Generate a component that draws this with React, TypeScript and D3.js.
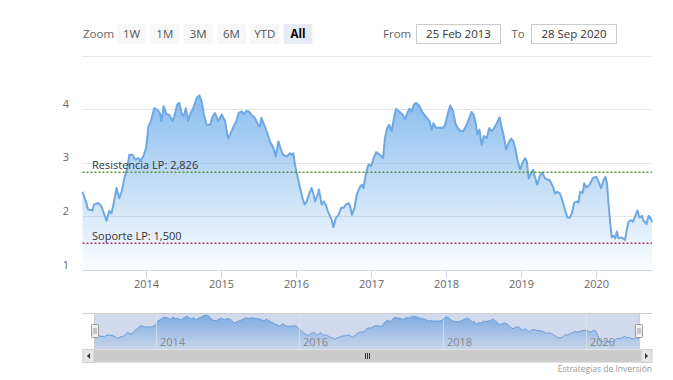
import React from "react";
import * as d3 from "d3";

const dates: string[] = [
  "2013-02-25","2013-03-16","2013-03-24","2013-04-15","2013-04-21","2013-05-12","2013-05-28","2013-06-09","2013-06-22","2013-07-05","2013-07-16","2013-07-29","2013-08-10","2013-08-23","2013-09-04","2013-09-17","2013-10-01","2013-10-11","2013-10-27","2013-11-08","2013-11-24","2013-12-02","2013-12-18",
  "2014-01-01","2014-01-12","2014-01-24","2014-02-09","2014-02-25","2014-03-08","2014-03-16","2014-03-27","2014-04-10","2014-04-23","2014-05-09","2014-05-20","2014-06-01","2014-06-11","2014-06-22","2014-07-03","2014-07-13","2014-07-24","2014-08-02","2014-08-18","2014-09-04","2014-09-17","2014-09-28","2014-10-09","2014-10-22","2014-11-08","2014-11-21","2014-12-02","2014-12-18",
  "2015-01-04","2015-01-20","2015-02-03","2015-02-14","2015-02-27","2015-03-16","2015-03-27","2015-04-10","2015-04-23","2015-05-04","2015-05-15","2015-05-28","2015-06-14","2015-06-30","2015-07-08","2015-07-16","2015-07-29","2015-08-10","2015-08-26","2015-09-12","2015-09-24","2015-10-06","2015-10-19","2015-10-30","2015-11-16","2015-12-02","2015-12-10","2015-12-18","2015-12-26",
  "2016-01-09","2016-01-20","2016-02-01","2016-02-11","2016-02-22","2016-03-03","2016-03-16","2016-03-24","2016-04-02","2016-04-15","2016-04-21","2016-05-04","2016-05-14","2016-05-24","2016-06-03","2016-06-14","2016-06-22","2016-06-30","2016-07-12","2016-07-24","2016-08-07","2016-08-18","2016-08-30","2016-09-12","2016-09-20","2016-09-28","2016-10-11","2016-10-22","2016-11-08","2016-11-16","2016-11-24","2016-12-06","2016-12-18",
  "2017-01-01","2017-01-12","2017-01-25","2017-02-11","2017-02-27","2017-03-08","2017-03-19","2017-03-29","2017-04-10","2017-04-21","2017-05-01","2017-05-17","2017-06-03","2017-06-14","2017-06-25","2017-07-05","2017-07-16","2017-07-27","2017-08-07","2017-08-23","2017-09-04","2017-09-15","2017-09-28","2017-10-11","2017-10-22","2017-10-30","2017-11-13","2017-11-29","2017-12-15","2017-12-26",
  "2018-01-07","2018-01-20","2018-02-03","2018-02-14","2018-02-25","2018-03-12","2018-03-24","2018-04-10","2018-04-23","2018-05-04","2018-05-15","2018-05-25","2018-06-01","2018-06-11","2018-06-22","2018-07-03","2018-07-16","2018-07-29","2018-08-10","2018-08-21","2018-09-04","2018-09-17","2018-09-28","2018-10-06","2018-10-19","2018-10-30","2018-11-12","2018-11-24","2018-12-05","2018-12-13","2018-12-26",
  "2019-01-09","2019-01-20","2019-01-28","2019-02-06","2019-02-18","2019-02-27","2019-03-08","2019-03-19","2019-04-02","2019-04-13","2019-04-26","2019-05-07","2019-05-20","2019-06-03","2019-06-14","2019-06-25","2019-07-08","2019-07-21","2019-08-02","2019-08-13","2019-08-26","2019-09-04","2019-09-15","2019-09-25","2019-10-06","2019-10-14","2019-10-27","2019-11-03","2019-11-13","2019-11-29","2019-12-15",
  "2020-01-01","2020-01-12","2020-01-24","2020-02-06","2020-02-14","2020-02-22","2020-02-29","2020-03-08","2020-03-16","2020-03-24","2020-04-02","2020-04-10","2020-04-18","2020-04-30","2020-05-09","2020-05-20","2020-05-28","2020-06-06","2020-06-18","2020-06-27","2020-07-08","2020-07-19","2020-07-29","2020-08-10","2020-08-18","2020-09-01","2020-09-12","2020-09-24","2020-09-28",
];

const values: number[] = [
  2.46, 2.25, 2.13, 2.11, 2.22, 2.25, 2.19, 2.06, 1.92, 2.10, 2.06, 2.28, 2.53, 2.34, 2.47, 2.72, 2.90, 3.15, 3.15, 3.06, 3.09, 3.03, 3.12,
  3.28, 3.68, 3.78, 4.02, 3.99, 3.93, 3.78, 4.06, 3.91, 3.90, 3.78, 3.90, 4.09, 4.12, 3.93, 3.87, 4.02, 3.78, 3.90, 4.02, 4.21, 4.26, 4.15, 3.90, 3.71, 3.71, 3.87, 3.93, 3.78,
  3.90, 3.78, 3.46, 3.53, 3.65, 3.78, 3.93, 3.96, 3.91, 3.97, 3.96, 3.90, 3.84, 3.71, 3.68, 3.84, 3.71, 3.59, 3.40, 3.28, 3.12, 3.40, 3.25, 3.15, 3.12, 3.18, 3.15, 3.18, 2.97,
  2.72, 2.53, 2.34, 2.22, 2.28, 2.41, 2.53, 2.44, 2.28, 2.41, 2.50, 2.22, 2.28, 2.22, 2.10, 2.00, 1.94, 1.80, 1.97, 2.02, 2.16, 2.16, 2.22, 2.25, 2.19, 2.03, 2.16, 2.41, 2.56, 2.59, 2.53, 2.81, 2.97,
  2.94, 3.09, 3.20, 3.15, 3.09, 3.46, 3.65, 3.71, 3.59, 3.84, 4.01, 3.96, 3.90, 3.81, 3.93, 4.01, 3.96, 4.09, 4.12, 4.06, 3.96, 3.90, 3.84, 3.78, 3.62, 3.74, 3.65, 3.66, 3.65, 3.71,
  3.90, 4.07, 3.96, 3.74, 3.65, 3.59, 3.59, 3.71, 3.84, 3.95, 3.89, 3.71, 3.53, 3.62, 3.34, 3.50, 3.46, 3.65, 3.59, 3.65, 3.74, 3.85, 3.65, 3.53, 3.25, 3.37, 3.45, 3.40, 3.22, 3.05, 2.88,
  3.02, 3.09, 3.02, 2.71, 2.81, 2.87, 2.74, 2.59, 2.77, 2.82, 2.71, 2.69, 2.67, 2.56, 2.43, 2.46, 2.43, 2.28, 2.12, 1.98, 1.98, 2.06, 2.25, 2.28, 2.26, 2.46, 2.44, 2.62, 2.54, 2.59, 2.71,
  2.74, 2.65, 2.53, 2.68, 2.74, 2.62, 2.25, 1.90, 1.61, 1.64, 1.59, 1.72, 1.59, 1.61, 1.59, 1.56, 1.75, 1.90, 1.93, 1.90, 2.00, 2.11, 1.98, 2.01, 1.92, 1.86, 2.01, 1.95, 1.89,
];

const yTickValues: number[] = [1, 2, 3, 4];
const yGridValues: number[] = [2, 3, 4, 5];
const xTickYears: number[] = [2014, 2015, 2016, 2017, 2018, 2019, 2020];
const navTickYears: number[] = [2014, 2016, 2018, 2020];
const rangeButtons: string[] = ["1W", "1M", "3M", "6M", "YTD", "All"];
const selectedButton = "All";
const fromText = "25 Feb 2013";
const toText = "28 Sep 2020";
const plotLinesData = [
  { value: 2.826, label: "Resistencia LP: 2,826", color: "#5b8f38" },
  { value: 1.5, label: "Soporte LP: 1,500", color: "#a83a5e" },
];
const creditText = "Estrategias de Inversión";

const FONT = "'Open Sans', 'Noto Sans', sans-serif";

export default function App() {
  const parse = d3.timeParse("%Y-%m-%d");
  const data = dates.map((d, i) => ({ date: parse(d) as Date, v: values[i] }));
  const domain = [data[0].date, data[data.length - 1].date];

  const left = 82.5, right = 652, bottom = 270;
  const x = d3.scaleTime().domain(domain).range([left, right]);
  const y = d3.scaleLinear().domain([1, 5]).range([bottom, 55.7]);

  const navTop = 313, navBottom = 349;
  const xN = d3.scaleTime().domain(domain).range([95, 639]);
  const yN = d3.scaleLinear().domain([0.86, 4.46]).range([navBottom, navTop]);

  const area = d3.area<{ date: Date; v: number }>().x(d => x(d.date)).y0(bottom).y1(d => y(d.v));
  const line = d3.line<{ date: Date; v: number }>().x(d => x(d.date)).y(d => y(d.v));
  const areaN = d3.area<{ date: Date; v: number }>().x(d => xN(d.date)).y0(navBottom).y1(d => yN(d.v));
  const lineN = d3.line<{ date: Date; v: number }>().x(d => xN(d.date)).y(d => yN(d.v));

  const maxV = d3.max(values) as number;
  const btnStep = 33.3, btnW = 29, btnX0 = 117;

  return (
    <svg width={673} height={380} style={{ position: "absolute", left: 0, top: 0, background: "#fff" }} fontFamily={FONT}>
      <defs>
        <linearGradient id="g1" gradientUnits="userSpaceOnUse" x1="0" x2="0" y1={y(maxV)} y2={bottom}>
          <stop offset="0" stopColor="#7cb5ec" stopOpacity={0.9} />
          <stop offset="1" stopColor="#7cb5ec" stopOpacity={0.03} />
        </linearGradient>
        <linearGradient id="g2" gradientUnits="userSpaceOnUse" x1="0" x2="0" y1={yN(maxV)} y2={navBottom}>
          <stop offset="0" stopColor="#7cb5ec" stopOpacity={0.9} />
          <stop offset="1" stopColor="#7cb5ec" stopOpacity={0.1} />
        </linearGradient>
      </defs>

      {/* range selector */}
      <text x={83} y={38} fontSize={11.5} fill="#666">Zoom</text>
      {rangeButtons.map((b, i) => {
        const bx = btnX0 + i * btnStep;
        const sel = b === selectedButton;
        return (
          <g key={b}>
            <rect x={bx} y={24} width={btnW} height={20} rx={2} fill={sel ? "#e6ebf5" : "#f7f7f7"} />
            <text x={bx + btnW / 2} y={38} textAnchor="middle" fontSize={11.5} fill={sel ? "#000" : "#555"} fontWeight={sel ? "bold" : "normal"}>{b}</text>
          </g>
        );
      })}
      <text x={383} y={38} fontSize={11.5} fill="#666">From</text>
      <rect x={416.5} y={24.5} width={84} height={19} fill="#fff" stroke="#cccccc" />
      <text x={458.5} y={38} textAnchor="middle" fontSize={11.5} fill="#333">{fromText}</text>
      <text x={511.5} y={38} fontSize={11.5} fill="#666">To</text>
      <rect x={531.5} y={24.5} width={85} height={19} fill="#fff" stroke="#cccccc" />
      <text x={574} y={38} textAnchor="middle" fontSize={11.5} fill="#333">{toText}</text>

      {/* grid */}
      {yGridValues.map(v => (
        <line key={v} x1={left} x2={right} y1={Math.round(y(v)) + 0.5} y2={Math.round(y(v)) + 0.5} stroke="#e6e6e6" />
      ))}
      {yTickValues.map(v => (
        <text key={v} x={66} y={y(v) - 1.5} textAnchor="middle" fontSize={11} fill="#666">{v}</text>
      ))}

      {/* series */}
      <path d={area(data) as string} fill="url(#g1)" />
      <path d={line(data) as string} fill="none" stroke="#6ea8e3" strokeWidth={2} strokeLinejoin="round" />

      {/* plot lines */}
      {plotLinesData.map(p => (
        <g key={p.label}>
          <line x1={left} x2={right} y1={y(p.value)} y2={y(p.value)} stroke={p.color} strokeWidth={1.5} strokeDasharray="2,2" />
          <text x={92} y={y(p.value) - 3} fontSize={11} fill="#333">{p.label}</text>
        </g>
      ))}

      {/* x axis */}
      <line x1={left} x2={right} y1={bottom + 0.5} y2={bottom + 0.5} stroke="#ccd6eb" />
      {xTickYears.map(yr => {
        const tx = Math.round(x(new Date(yr, 0, 1))) + 0.5;
        return (
          <g key={yr}>
            <line x1={tx} x2={tx} y1={bottom} y2={bottom + 8} stroke="#ccd6eb" />
            <text x={tx} y={bottom + 18} textAnchor="middle" fontSize={11} fill="#666">{yr}</text>
          </g>
        );
      })}

      {/* navigator */}
      <path d={areaN(data) as string} fill="url(#g2)" />
      <path d={lineN(data) as string} fill="none" stroke="#6ea8e3" strokeWidth={1} />
      <rect x={94} y={navTop} width={546} height={navBottom - navTop} fill="rgba(102,133,194,0.3)" />
      {navTickYears.map(yr => {
        const tx = Math.round(xN(new Date(yr, 0, 1))) + 0.5;
        return (
          <g key={yr}>
            <line x1={tx} x2={tx} y1={navTop} y2={navBottom} stroke="#e6e6e6" strokeOpacity={0.6} />
            <text x={tx + 3.5} y={346} fontSize={11} fill="#888">{yr}</text>
          </g>
        );
      })}
      <path d={`M${left},${navTop + 0.5}H${right}M94.5,${navTop}V${navBottom}M639.5,${navTop}V${navBottom}`} stroke="#cccccc" fill="none" />
      {[95, 639].map(hx => (
        <g key={hx}>
          <rect x={hx - 3.5} y={324.5} width={7} height={13} rx={1} fill="#f2f2f2" stroke="#999" />
          <path d={`M${hx - 1},328V334M${hx + 1},328V334`} stroke="#999" />
        </g>
      ))}

      {/* scrollbar */}
      <rect x={left} y={349.5} width={right - left} height={13} fill="#f2f2f2" />
      <rect x={94} y={349.5} width={547} height={13} fill="#cccccc" />
      <rect x={83} y={349.5} width={11} height={13} fill="#e6e6e6" stroke="#cccccc" />
      <rect x={641} y={349.5} width={11} height={13} fill="#e6e6e6" stroke="#cccccc" />
      <path d="M87,356L90,353V359Z" fill="#333" />
      <path d="M648,356L645,353V359Z" fill="#333" />
      <path d="M365.5,353V359M367.5,353V359M369.5,353V359" stroke="#333" />

      <text x={652} y={372} textAnchor="end" fontSize={8.5} fill="#999">{creditText}</text>
    </svg>
  );
}
